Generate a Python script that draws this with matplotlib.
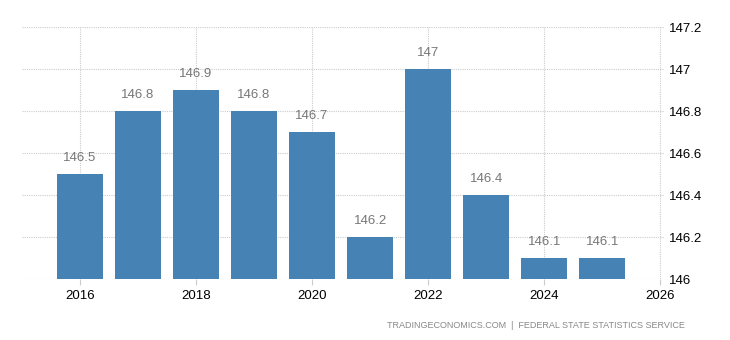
import matplotlib
matplotlib.use("Agg")
import matplotlib.pyplot as plt

years = [2016, 2017, 2018, 2019, 2020, 2021, 2022, 2023, 2024, 2025]
values = [146.5, 146.8, 146.9, 146.8, 146.7, 146.2, 147.0, 146.4, 146.1, 146.1]
labels = ["146.5", "146.8", "146.9", "146.8", "146.7", "146.2", "147", "146.4", "146.1", "146.1"]
yticks = [146, 146.2, 146.4, 146.6, 146.8, 147, 147.2]
ytick_labels = ["146", "146.2", "146.4", "146.6", "146.8", "147", "147.2"]
xticks = [2016, 2018, 2020, 2022, 2024, 2026]

plt.rcParams['font.family'] = ['Liberation Sans', 'DejaVu Sans']

fig = plt.figure(figsize=(7.3, 3.4), dpi=100)
ax = fig.add_axes([0.030, 0.179, 0.880, 0.741])

base = 146
ax.bar(years, [v - base for v in values], bottom=base, width=0.79, color="#4682B4", zorder=3)
for x, v, t in zip(years, values, labels):
    ax.text(x, v + 0.05, t, ha="center", va="bottom", fontsize=9.5, color="#777777", zorder=4)

ax.set_xlim(2015.0, 2026.07)
ax.set_ylim(146, 147.2)
ax.set_yticks(yticks)
ax.set_yticklabels(ytick_labels)
ax.set_xticks(xticks)
ax.set_xticklabels([str(x) for x in xticks])
ax.yaxis.tick_right()
ax.tick_params(axis="y", length=0, pad=3, labelsize=9.5, colors="black")
ax.tick_params(axis="x", length=4, color="#cccccc", pad=4, labelsize=9.5, colors="black")
for s in ax.spines.values():
    s.set_visible(False)
ax.grid(True, which="major", axis="both", linestyle=(0, (1, 1)), color="#cccccc", linewidth=0.8, zorder=0)

fig.text(0.938, 0.03, "TRADINGECONOMICS.COM  |  FEDERAL STATE STATISTICS SERVICE",
         ha="right", va="bottom", fontsize=6.5, color="#888888")

fig.savefig("out.png", dpi=100)
